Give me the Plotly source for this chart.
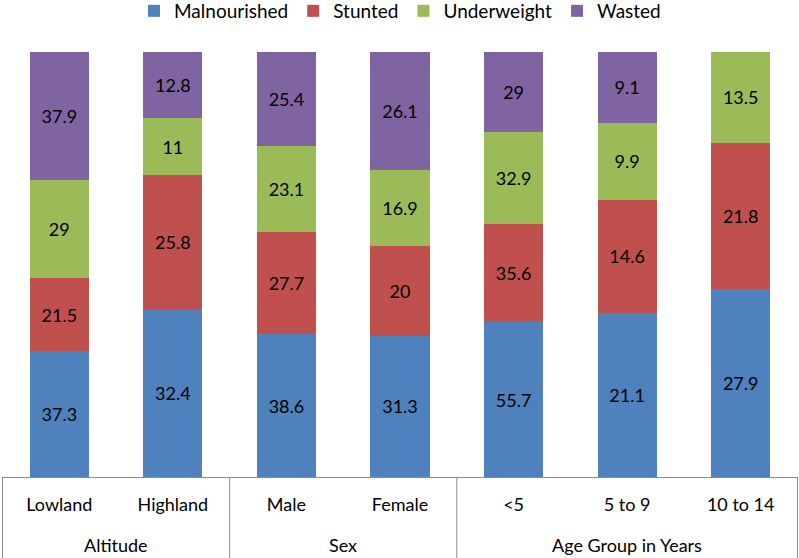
import plotly.graph_objects as go

groups = ['Altitude', 'Altitude', 'Sex', 'Sex', 'Age Group in Years', 'Age Group in Years', 'Age Group in Years']
categories = ['Lowland', 'Highland', 'Male', 'Female', '<5', '5 to 9', '10 to 14']

malnourished = [37.3, 32.4, 38.6, 31.3, 55.7, 21.1, 27.9]
stunted = [21.5, 25.8, 27.7, 20, 35.6, 14.6, 21.8]
underweight = [29, 11, 23.1, 16.9, 32.9, 9.9, 13.5]
wasted = [37.9, 12.8, 25.4, 26.1, 29, 9.1, None]

series = [
    ('Malnourished', malnourished, '#4F81BD'),
    ('Stunted', stunted, '#C0504D'),
    ('Underweight', underweight, '#9BBB59'),
    ('Wasted', wasted, '#8064A2'),
]

font_info = dict(family='Lato', color='#000000', size=18)
line_col = '#8c8c8c'

fig = go.Figure()

for name, vals, color in series:
    fig.add_trace(go.Bar(
        x=categories,
        y=vals,
        name=name,
        marker_color=color,
        marker_line_width=0,
        text=['' if v is None else f'{v:g}' for v in vals],
        textposition='inside',
        insidetextanchor='middle',
        textangle=0,
        textfont=font_info,
    ))

# group labels and the boxes around each group (Excel-style category table)
group_names = list(dict.fromkeys(groups))
for g in group_names:
    idx = [i for i, v in enumerate(groups) if v == g]
    fig.add_annotation(
        x=(idx[0] + idx[-1]) / 2, xref='x',
        y=-0.16, yref='paper',
        text=g, showarrow=False,
        font=font_info, yanchor='middle',
    )
    fig.add_shape(
        type='line', xref='x', yref='paper',
        x0=idx[0] - 0.5, x1=idx[0] - 0.5, y0=0, y1=-0.2,
        line=dict(color=line_col, width=1),
    )
fig.add_shape(
    type='line', xref='x', yref='paper',
    x0=len(categories) - 0.5, x1=len(categories) - 0.5, y0=0, y1=-0.2,
    line=dict(color=line_col, width=1),
)

fig.update_layout(
    barmode='stack',
    barnorm='percent',
    bargap=0.48,
    width=799,
    height=558,
    margin=dict(l=2, r=1, t=52, b=81, autoexpand=False),
    plot_bgcolor='white',
    paper_bgcolor='white',
    font=font_info,
    legend=dict(
        orientation='h',
        x=0.5,
        xanchor='center',
        y=1.0965,
        yanchor='middle',
        font=dict(family='Lato', color='#000000', size=19),
        itemwidth=30,
        traceorder='normal',
    ),
    uniformtext=dict(minsize=18, mode='show'),
)

fig.update_xaxes(
    type='category',
    showline=True,
    linecolor=line_col,
    linewidth=1,
    ticks='',
    ticklabelstandoff=11,
    tickfont=font_info,
    showgrid=False,
    automargin=False,
)

fig.update_yaxes(
    visible=False,
    range=[0, 100],
    showgrid=False,
)

fig.write_html(
    'out.html',
    config={'displayModeBar': False},
    post_script="document.body.style.margin='0';document.body.style.overflow='hidden';",
)
